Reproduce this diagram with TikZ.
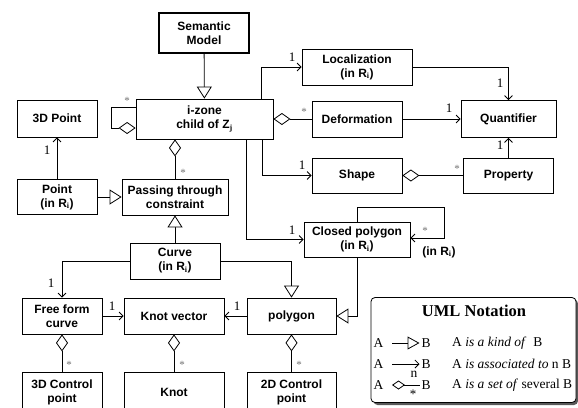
\documentclass[tikz,border=0pt]{standalone}
\usepackage{fontspec}
\setmainfont{Liberation Serif}
\setsansfont{Liberation Sans}
\usetikzlibrary{arrows.meta,calc}
\tikzset{
 box/.style={draw, line width=0.8pt, font=\sffamily\bfseries\fontsize{12}{14}\selectfont, align=center, inner sep=0pt},
 conn/.style={line width=0.8pt},
 assoc/.style={conn, -{Straight Barb[length=4pt,width=8pt,line width=0.8pt]}},
 inh/.style={conn, -{Triangle[open,length=12pt,width=15pt,fill=white,line width=0.8pt]}},
 agg/.style={conn, {Diamond[open,length=17pt,width=12pt,line width=0.8pt]}-},
 one/.style={font=\fontsize{13}{14}\selectfont, inner sep=0pt},
 many/.style={font=\fontsize{11}{12}\selectfont, text=black!55, inner sep=0pt},
 lgtxt/.style={font=\fontsize{13.5}{15}\selectfont, inner sep=0pt},
}
\begin{document}
\begin{tikzpicture}[x=1pt,y=-1pt]
\useasboundingbox (0,0) rectangle (578,407);
% boxes
\node[box, line width=2pt, minimum width=90pt, minimum height=40pt] (sem) at (204,33) {Semantic\\Model};
\node[box, minimum width=137pt, minimum height=40pt] (izone) at (204.5,119) {i-zone\\child of Z$_\mathbf{j}$};
\node[box, minimum width=80pt, minimum height=37pt] (p3d) at (57,118.5) {3D Point};
\node[box, minimum width=80pt, minimum height=35pt] (point) at (57,197) {Point\\(in R$_\mathbf{i}$)};
\node[box, minimum width=106pt, minimum height=36pt] (passing) at (175,197) {Passing through\\constraint};
\node[box, minimum width=90pt, minimum height=36pt] (curve) at (175,261) {Curve\\(in R$_\mathbf{i}$)};
\node[box, minimum width=80pt, minimum height=36pt] (free) at (62,316) {Free form\\curve};
\node[box, minimum width=100pt, minimum height=36pt] (knotvec) at (174,316) {Knot vector};
\node[box, minimum width=89pt, minimum height=36pt] (polygon) at (291.5,316) {polygon};
\node[box, minimum width=80pt, minimum height=40pt] (cp3d) at (62,392) {3D Control\\point};
\node[box, minimum width=100pt, minimum height=40pt] (knot) at (174,392) {Knot};
\node[box, minimum width=89pt, minimum height=40pt] (cp2d) at (291.5,392) {2D Control\\point};
\node[box, minimum width=106pt, minimum height=35pt] (closed) at (357,239.5) {Closed polygon\\(in R$_\mathbf{i}$)};
\node[box, minimum width=110pt, minimum height=36pt] (loc) at (357,67) {Localization\\(in R$_\mathbf{i}$)};
\node[box, minimum width=90pt, minimum height=36pt] (deform) at (357,119) {Deformation};
\node[box, minimum width=95pt, minimum height=37pt] (quant) at (508.5,119) {Quantifier};
\node[box, minimum width=90pt, minimum height=35pt] (shape) at (357,175.5) {Shape};
\node[box, minimum width=90pt, minimum height=35pt] (prop) at (508.5,175.5) {Property};
% connectors
\draw[inh] (sem) -- (izone);
\draw[agg] ([yshift=-9pt]izone.west) -- ++(-24,0) |- ([yshift=12pt]izone.west);
\draw[agg] ([xshift=-29.5pt]izone.south) -- (passing.north);
\draw[assoc] (point.north) -- (p3d.south);
\draw[inh] (point.east) -- (passing.west);
\draw[inh] (curve.north) -- (passing.south);
\draw[assoc] (curve.west) -| (free.north);
\draw[inh] (curve.east) -| (polygon.north);
\draw[assoc] (free.east) -- (knotvec.west);
\draw[assoc] (polygon.west) -- (knotvec.east);
\draw[agg] (free.south) -- (cp3d.north);
\draw[agg] (knotvec.south) -- (knot.north);
\draw[agg] (polygon.south) -- (cp2d.north);
\draw[inh] (closed.south) |- (polygon.east);
\draw[assoc] (closed.north) -- ++(0,-14) -- ++(87,0) |- ([yshift=1.5pt]closed.east);
\draw[assoc] ([xshift=-12pt]izone.north east) |- (loc.west);
\draw[agg] (izone.east) -- (deform.west);
\draw[assoc] ([xshift=-11pt]izone.south east) |- (shape.west);
\draw[assoc] ([xshift=-27pt]izone.south east) |- (closed.west);
\draw[assoc] (loc.east) -| (quant.north);
\draw[assoc] (deform.east) -- (quant.west);
\draw[assoc] (prop.north) -- (quant.south);
\draw[agg] (shape.east) -- (prop.west);
% multiplicities
\node[many] (m1) at (127,101) {*};
\node[many] (m2) at (183,173) {*};
\node[one] (o1) at (47,150) {1};
\node[one] (o2) at (51,283) {1};
\node[one] (o3) at (112,306) {1};
\node[one] (o4) at (237,306) {1};
\node[many] (m3) at (69,365) {*};
\node[many] (m4) at (182,365) {*};
\node[many] (m5) at (299,365) {*};
\node[many] (m6) at (425,231) {*};
\node[font=\sffamily\bfseries\fontsize{12}{14}\selectfont, inner sep=0pt] (inr) at (439,252) {(in R$_\mathbf{i}$)};
\node[one] (o5) at (292,57) {1};
\node[many] (m7) at (304,112) {*};
\node[one] (o6) at (302,165) {1};
\node[one] (o7) at (292,230) {1};
\node[one] (o8) at (500,83) {1};
\node[one] (o9) at (449,108) {1};
\node[one] (o10) at (500,145) {1};
\node[many] (m8) at (457,169) {*};
% legend
\fill[black!65, rounded corners=4pt] (373.5,299.5) rectangle (578,405);
\node[draw, fill=white, rounded corners=4pt, line width=0.8pt, minimum width=205pt, minimum height=105pt, inner sep=0pt] (legend) at (473.5,350) {};
\node[font=\bfseries\fontsize{16.5}{18}\selectfont, inner sep=0pt] (title) at (474,311) {UML Notation};
\node[lgtxt, anchor=east, inner sep=0.5pt] (a1) at (384,343) {A};
\node[lgtxt, anchor=west, inner sep=0.5pt] (b1) at (421,343) {B};
\node[lgtxt, anchor=west] (d1) at (452,343) {A \textit{is a kind of} ~B};
\node[lgtxt, anchor=east, inner sep=0.5pt] (a2) at (384,364) {A};
\node[lgtxt, anchor=west, inner sep=0.5pt] (b2) at (421,364) {B};
\node[lgtxt, anchor=west] (d2) at (452,364) {A \textit{is associated to} n B};
\node[lgtxt, anchor=east, inner sep=0.5pt] (a3) at (384,385) {A};
\node[lgtxt, anchor=west, inner sep=0.5pt] (b3) at (421,385) {B};
\node[lgtxt, anchor=west] (d3) at (452,385) {A \textit{is a set of} several B};
\draw[conn, -{Triangle[open,length=12pt,width=13pt,line width=0.8pt]}] ([xshift=8pt]a1.east) -- ([xshift=-1.5pt]b1.west);
\draw[assoc] ([xshift=8pt]a2.east) -- ([xshift=-1.5pt]b2.west);
\draw[conn, {Diamond[open,length=13pt,width=9pt,line width=0.8pt]}-] ([xshift=8pt]a3.east) -- ([xshift=-1.5pt]b3.west);
\node[lgtxt, inner sep=0pt] (n) at (414,374) {n};
\node[many, text=black, font=\fontsize{13}{14}\selectfont] (st) at (413,394) {*};
\end{tikzpicture}
\end{document}
